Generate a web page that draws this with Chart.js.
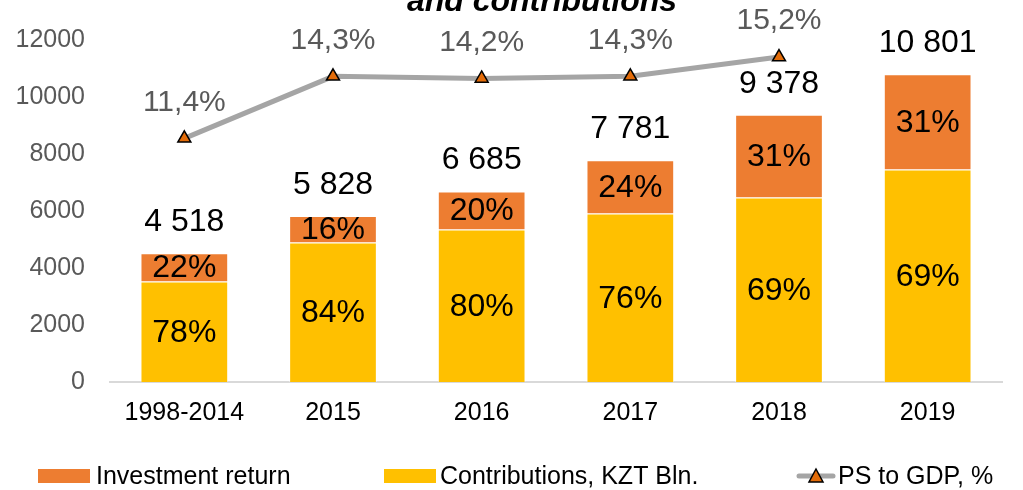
<!DOCTYPE html>
<html>
<head>
<meta charset="utf-8">
<script src="https://cdn.jsdelivr.net/npm/chart.js@4/dist/chart.umd.min.js"></script>
<style>
html,body{margin:0;padding:0;background:#fff;}
#wrap{position:relative;width:1023px;height:490px;}
</style>
</head>
<body>
<div id="wrap"><canvas id="c"></canvas></div>
<script>
const categories = ["1998-2014", "2015", "2016", "2017", "2018", "2019"];
const contributions = [3524, 4896, 5348, 5914, 6471, 7453];
const investmentReturn = [994, 932, 1337, 1867, 2907, 3348];
const totalLabels = ["4 518", "5 828", "6 685", "7 781", "9 378", "10 801"];
const contribShareLabels = ["78%", "84%", "80%", "76%", "69%", "69%"];
const returnShareLabels = ["22%", "16%", "20%", "24%", "31%", "31%"];
const psToGdp = [11.4, 14.3, 14.2, 14.3, 15.2, null];
const psToGdpLabels = ["11,4%", "14,3%", "14,2%", "14,3%", "15,2%", ""];
const yTicks = [0, 2000, 4000, 6000, 8000, 10000, 12000];
const titleText = "and contributions";

const FONT = "'Liberation Sans', Arial, sans-serif";
const ORANGE = "#ED7D31", YELLOW = "#FFC000", GRAY = "#A5A5A5", MARK = "#E36C09";

const labelPlugin = {
  id: 'labels',
  afterDatasetsDraw(chart) {
    const ctx = chart.ctx;
    ctx.save();
    ctx.textAlign = 'center';
    ctx.textBaseline = 'middle';
    const mC = chart.getDatasetMeta(0);
    const mR = chart.getDatasetMeta(1);
    const mL = chart.getDatasetMeta(2);
    ctx.font = "32px " + FONT;
    ctx.fillStyle = "#000";
    mC.data.forEach((b, i) => {
      ctx.fillText(contribShareLabels[i], b.x, (b.y + b.base) / 2 + 1);
    });
    mR.data.forEach((b, i) => {
      ctx.fillText(returnShareLabels[i], b.x, (b.y + b.base) / 2 + 1);
      ctx.fillText(totalLabels[i], b.x, b.y - 31);
    });
    ctx.font = "30px " + FONT;
    ctx.fillStyle = "#595959";
    mL.data.forEach((p, i) => {
      if (psToGdp[i] == null) return;
      ctx.fillText(psToGdpLabels[i], p.x, p.y - 36);
    });
    // title (partly cut off at top)
    ctx.font = "italic bold 32px " + FONT;
    ctx.fillStyle = "#000";
    ctx.textBaseline = 'alphabetic';
    ctx.fillText(titleText, 542, 11);
    // legend
    ctx.textAlign = 'left';
    ctx.textBaseline = 'middle';
    ctx.font = "25px " + FONT;
    ctx.fillStyle = ORANGE;
    ctx.fillRect(38, 469, 52, 14);
    ctx.fillStyle = "#000";
    ctx.fillText(chart.data.datasets[1].label, 96, 477);
    ctx.fillStyle = YELLOW;
    ctx.fillRect(384, 469, 52, 14);
    ctx.fillStyle = "#000";
    ctx.fillText(chart.data.datasets[0].label, 440, 477);
    ctx.strokeStyle = GRAY;
    ctx.lineWidth = 5;
    ctx.lineCap = 'round';
    ctx.beginPath(); ctx.moveTo(799, 476); ctx.lineTo(833, 476); ctx.stroke();
    ctx.beginPath();
    ctx.moveTo(816, 469); ctx.lineTo(823, 482); ctx.lineTo(809, 482); ctx.closePath();
    ctx.fillStyle = MARK; ctx.fill();
    ctx.strokeStyle = "#000"; ctx.lineWidth = 1.5; ctx.stroke();
    ctx.fillStyle = "#000";
    ctx.fillText(chart.data.datasets[2].label, 838, 477);
    ctx.restore();
  }
};

new Chart(document.getElementById('c'), {
  data: {
    labels: categories,
    datasets: [
      { type: 'bar', label: 'Contributions, KZT Bln.', data: contributions, backgroundColor: YELLOW,
        borderColor: 'rgba(255,255,255,0.5)', borderWidth: 1, stack: 's', order: 2, yAxisID: 'y',
        barPercentage: 0.59, categoryPercentage: 1 },
      { type: 'bar', label: 'Investment return', data: investmentReturn, backgroundColor: ORANGE,
        borderColor: 'rgba(255,255,255,0.5)', borderWidth: 1, stack: 's', order: 3, yAxisID: 'y',
        barPercentage: 0.59, categoryPercentage: 1 },
      { type: 'line', label: 'PS to GDP, %', data: psToGdp, borderColor: GRAY, borderWidth: 5,
        pointStyle: 'triangle', pointRadius: 7.5, pointBackgroundColor: MARK, pointBorderColor: '#000',
        pointBorderWidth: 1.5, yAxisID: 'y1', order: 1, tension: 0, spanGaps: false }
    ]
  },
  options: {
    responsive: true,
    maintainAspectRatio: false,
    animation: false,
    events: [],
    layout: { padding: { top: 38, right: 21, bottom: 0, left: 0 } },
    plugins: { legend: { display: false }, tooltip: { enabled: false }, title: { display: false } },
    scales: {
      x: {
        stacked: true,
        grid: { display: false, drawTicks: false },
        border: { display: true, color: '#D9D9D9', width: 2 },
        ticks: { color: '#000', font: { size: 25, family: FONT }, padding: 16, maxRotation: 0 },
        afterFit(s) { s.height = 108; }
      },
      y: {
        stacked: true,
        min: 0, max: 12000,
        afterBuildTicks(s) { s.ticks = yTicks.map(v => ({ value: v })); },
        grid: { display: false, drawTicks: false },
        border: { display: false },
        ticks: { color: '#595959', font: { size: 25, family: FONT }, padding: 25,
                 callback: (v) => String(v) },
        afterFit(s) { s.width = 110; }
      },
      y1: {
        display: false,
        min: 0, max: 16,
        position: 'right'
      }
    }
  },
  plugins: [labelPlugin]
});
</script>
</body>
</html>
